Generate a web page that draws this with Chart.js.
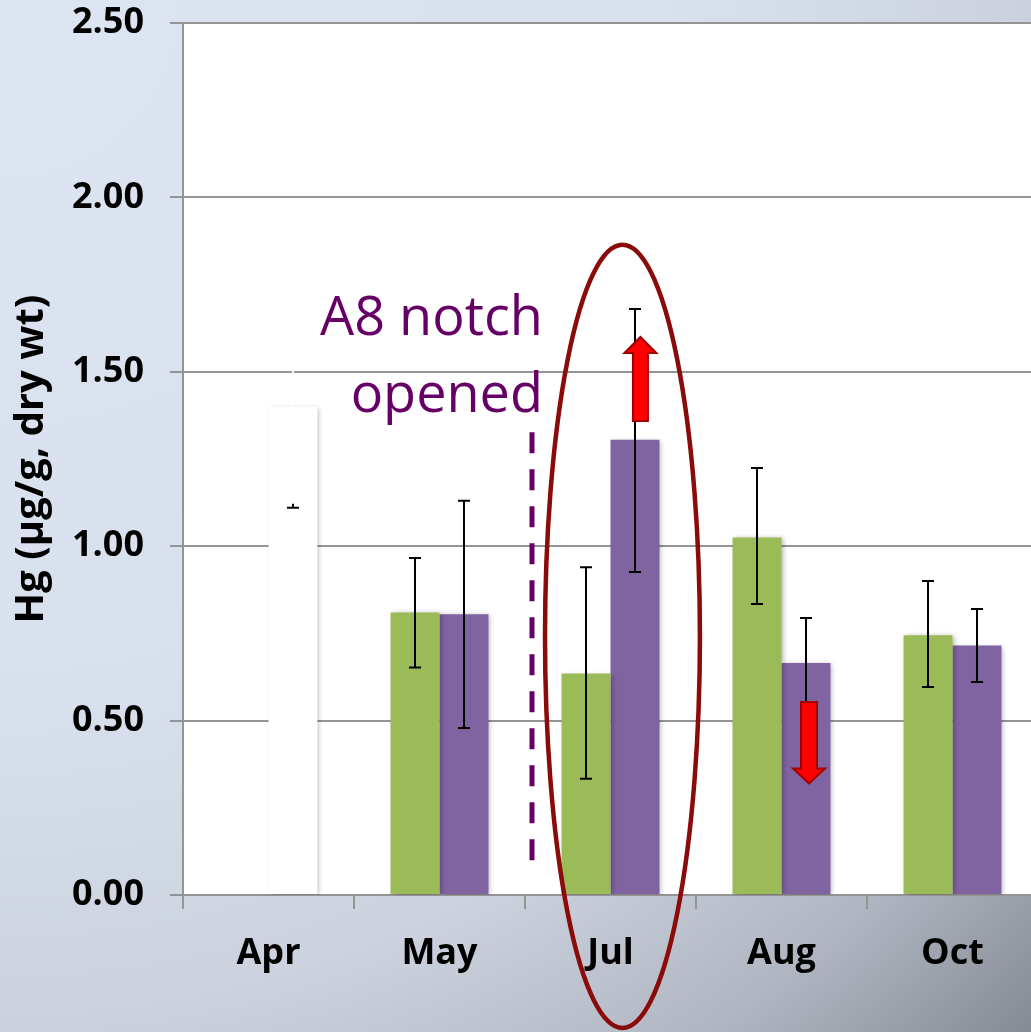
<!DOCTYPE html>
<html>
<head>
<meta charset="utf-8">
<script src="https://cdn.jsdelivr.net/npm/chart.js@4"></script>
<style>
  html, body { margin: 0; padding: 0; overflow: hidden; }
  body {
    width: 1031px; height: 1032px;
    background: radial-gradient(circle farthest-corner at 0 0, #dce5f1 0%, #d7e0ec 48%, #cbd2dd 70%, #b0b6c1 86%, #858a94 100%);
  }
  #wrap { width: 1040px; height: 1032px; position: relative; }
</style>
</head>
<body>
<div id="wrap"><canvas id="hgChart"></canvas></div>
<script>
// Hg in sediment by month, two sites
const months = ['Apr', 'May', 'Jul', 'Aug', 'Oct'];
const greenVals = [0, 0.81, 0.635, 1.025, 0.745];
const greenLow = [0, 0.652, 0.333, 0.834, 0.596];
const greenHigh = [0, 0.966, 0.94, 1.224, 0.90];
const purpleVals = [1.40, 0.805, 1.305, 0.665, 0.715];
const purpleLow = [1.11, 0.479, 0.926, 0.535, 0.611];
const purpleHigh = [1.72, 1.13, 1.68, 0.794, 0.82];
const yTicks = [0, 0.5, 1.0, 1.5, 2.0, 2.5];

const GREEN = '#9BBB59';
const PURPLE = '#8064A2';
const NOTE = '#660066';

// error bars
const errorBars = {
    id: 'errorBars',
    afterDatasetsDraw(chart) {
        const ctx = chart.ctx;
        const y = chart.scales.y;
        const sets = [[greenLow, greenHigh], [purpleLow, purpleHigh]];
        sets.forEach(function (lh, di) {
            chart.getDatasetMeta(di).data.forEach(function (bar, i) {
                if (lh[1][i] === lh[0][i]) return;
                const x = bar.x;
                const top = y.getPixelForValue(lh[1][i]);
                const bot = y.getPixelForValue(lh[0][i]);
                ctx.save();
                ctx.lineWidth = 2;
                // the Apr bar is whited out in the original
                ctx.strokeStyle = (di === 1 && i === 0) ? '#ffffff' : '#000000';
                ctx.beginPath();
                ctx.moveTo(x, top); ctx.lineTo(x, bot);
                ctx.moveTo(x - 6, top); ctx.lineTo(x + 6, top);
                ctx.moveTo(x - 6, bot); ctx.lineTo(x + 6, bot);
                ctx.stroke();
                if (di === 1 && i === 0) {
                    ctx.strokeStyle = '#000000';
                    ctx.beginPath();
                    ctx.moveTo(x - 6, bot); ctx.lineTo(x + 6, bot);
                    ctx.moveTo(x, bot); ctx.lineTo(x, bot - 4);
                    ctx.stroke();
                }
                ctx.restore();
            });
        });
    }
};

const plotBg = {
    id: 'plotBg',
    beforeDraw(chart) {
        const a = chart.chartArea;
        const ctx = chart.ctx;
        ctx.save();
        ctx.fillStyle = '#ffffff';
        ctx.fillRect(a.left, a.top, a.right - a.left, a.bottom - a.top);
        ctx.restore();
    },
    beforeDatasetsDraw(chart) {
        const ctx = chart.ctx;
        ctx.save();
        ctx.shadowColor = 'rgba(0,0,0,0.28)';
        ctx.shadowBlur = 5;
        ctx.shadowOffsetX = 2;
        ctx.shadowOffsetY = 1;
    },
    afterDatasetsDraw(chart) {
        chart.ctx.restore();
    }
};

function arrow(ctx, x, yFrom, yTo, shaftW, headW, headH) {
    const dir = yTo < yFrom ? -1 : 1;
    const base = yTo - dir * headH;
    ctx.beginPath();
    ctx.moveTo(x - shaftW / 2, yFrom);
    ctx.lineTo(x - shaftW / 2, base);
    ctx.lineTo(x - headW / 2, base);
    ctx.lineTo(x, yTo);
    ctx.lineTo(x + headW / 2, base);
    ctx.lineTo(x + shaftW / 2, base);
    ctx.lineTo(x + shaftW / 2, yFrom);
    ctx.closePath();
    ctx.fillStyle = '#ff0000';
    ctx.fill();
    ctx.lineWidth = 2;
    ctx.strokeStyle = '#a00000';
    ctx.stroke();
}

// annotations: dashed marker, label, arrows and the ellipse round July
const notes = {
    id: 'notes',
    afterDraw(chart) {
        const ctx = chart.ctx;
        const xs = chart.scales.x;
        const ys = chart.scales.y;
        ctx.save();

        // dashed line between May and Jul
        const dx = xs.getPixelForValue(1.541);
        ctx.strokeStyle = NOTE;
        ctx.lineWidth = 5;
        ctx.setLineDash([21, 16]);
        ctx.beginPath();
        ctx.moveTo(dx, ys.getPixelForValue(1.327));
        ctx.lineTo(dx, ys.getPixelForValue(0.077));
        ctx.stroke();
        ctx.setLineDash([]);

        ctx.fillStyle = NOTE;
        ctx.font = '54px "Open Sans"';
        ctx.textAlign = 'right';
        ctx.textBaseline = 'alphabetic';
        const tx = xs.getPixelForValue(1.605);
        ctx.fillText('A8 notch', tx, ys.getPixelForValue(1.606));
        ctx.fillText('opened', tx, ys.getPixelForValue(1.385));

        arrow(ctx, xs.getPixelForValue(2.175), ys.getPixelForValue(1.359), ys.getPixelForValue(1.60), 15, 32, 16);
        arrow(ctx, xs.getPixelForValue(3.161), ys.getPixelForValue(0.553), ys.getPixelForValue(0.32), 16, 32, 15);

        const l = xs.getPixelForValue(1.617), r = xs.getPixelForValue(2.523);
        const t = ys.getPixelForValue(1.864), b = ys.getPixelForValue(-0.381);
        ctx.strokeStyle = '#8b0a0a';
        ctx.lineWidth = 4.5;
        ctx.beginPath();
        ctx.ellipse((l + r) / 2, (t + b) / 2, (r - l) / 2, (b - t) / 2, 0, 0, Math.PI * 2);
        ctx.stroke();
        ctx.restore();
    }
};

const tickFont = { family: '"Open Sans"', size: 36, weight: 'bold', lineHeight: 1.1 };

new Chart(document.getElementById('hgChart'), {
    type: 'bar',
    data: {
        labels: months,
        datasets: [{
                label: 'Green',
                data: greenVals,
                backgroundColor: GREEN,
                categoryPercentage: 0.573,
                barPercentage: 1.0
            },
            {
                label: 'Purple',
                data: purpleVals,
                backgroundColor: ['#ffffff', PURPLE, PURPLE, PURPLE, PURPLE],
                categoryPercentage: 0.573,
                barPercentage: 1.0
            }
        ]
    },
    options: {
        responsive: true,
        maintainAspectRatio: false,
        animation: false,
        layout: { padding: { top: 0, right: 2, left: 0, bottom: 0 } },
        plugins: {
            legend: { display: false },
            tooltip: { enabled: false }
        },
        scales: {
            x: {
                grid: { drawOnChartArea: false, drawTicks: true, tickLength: 14, color: '#949494', lineWidth: 2 },
                border: { color: '#949494', width: 2 },
                ticks: { color: '#000000', font: tickFont, padding: 25 },
                afterFit(axis) { axis.height = 137; }
            },
            y: {
                min: 0,
                max: 2.5,
                afterBuildTicks(axis) { axis.ticks = yTicks.map(function (v) { return { value: v }; }); },
                grid: { color: '#949494', lineWidth: 2, tickLength: 13 },
                border: { color: '#949494', width: 2 },
                ticks: {
                    color: '#000000',
                    font: tickFont,
                    padding: 26,
                    callback: function (v) { return Number(v).toFixed(2); }
                },
                title: {
                    display: true,
                    text: 'Hg (µg/g, dry wt)',
                    color: '#000000',
                    font: { family: '"Open Sans"', size: 40, weight: 'bold', lineHeight: 1.2 },
                    padding: { top: 8, bottom: 0 }
                },
                afterFit(axis) {
                    axis.width = 183;
                    axis.paddingTop = 23;
                    axis.paddingBottom = 0;
                }
            }
        }
    },
    plugins: [plotBg, errorBars, notes]
});
</script>
</body>
</html>
